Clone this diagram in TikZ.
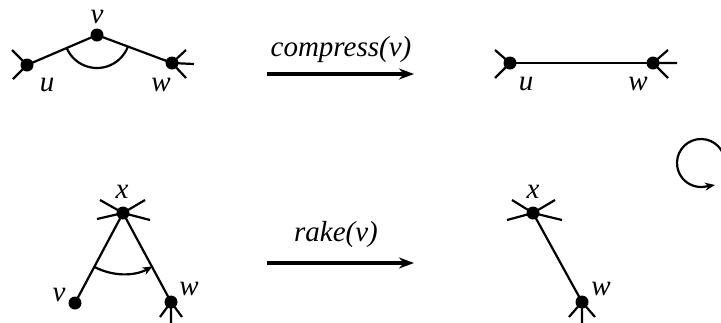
\documentclass[tikz,border=0pt]{standalone}
\usepackage{fontspec}
\setmainfont{Liberation Serif}
\usetikzlibrary{arrows.meta}
\begin{document}
\begin{tikzpicture}[x=1pt,y=-1pt,
  vert/.style={circle,fill=black,inner sep=0pt,minimum size=13pt},
  edge/.style={line width=2.2pt},
  stub/.style={line width=2.2pt},
  lab/.style={inner sep=0pt,font=\fontsize{29}{29}\selectfont\itshape},
  bigarrow/.style={line width=3.2pt,-{Stealth[length=15pt,width=11pt]}},
  turn/.style={line width=2.2pt,-{Stealth[length=10pt,width=8pt]}}]
\useasboundingbox (0,0) rectangle (721,322);
\clip (0,0) rectangle (721,322);
% ---------- top left ----------
\node[vert] (u1) at (27,65) {};
\node[vert] (v1) at (97,35) {};
\node[vert] (w1) at (172,63) {};
\draw[edge] (u1.center) -- (v1.center) -- (w1.center);
\coordinate (u1a) at (12,50); \coordinate (u1b) at (13,79);
\coordinate (w1a) at (186,50); \coordinate (w1b) at (194,64); \coordinate (w1c) at (186,78);
\draw[stub] (u1.center) -- (u1a) (u1.center) -- (u1b);
\draw[stub] (w1.center) -- (w1a) (w1.center) -- (w1b) (w1.center) -- (w1c);
\draw[edge] (v1.center) ++(157:33) arc[start angle=157,end angle=20.5,radius=33];
\node[lab] (lu1) at (47,85) {u};
\node[lab] (lv1) at (97,17) {v};
\node[lab] (lw1) at (161,85) {w};
% ---------- top arrow ----------
\coordinate (a1s) at (267,74); \coordinate (a1e) at (414,74);
\draw[bigarrow] (a1s) -- (a1e);
\node[lab] (c1) at (341,50) {compress(v)};
% ---------- top right ----------
\node[vert] (u2) at (510,63) {};
\node[vert] (w2) at (653,63) {};
\draw[edge] (u2.center) -- (w2.center);
\coordinate (u2a) at (495,50); \coordinate (u2b) at (495,78);
\coordinate (w2a) at (668,50); \coordinate (w2b) at (677,63); \coordinate (w2c) at (668,78);
\draw[stub] (u2.center) -- (u2a) (u2.center) -- (u2b);
\draw[stub] (w2.center) -- (w2a) (w2.center) -- (w2b) (w2.center) -- (w2c);
\node[lab] (lu2) at (526,84) {u};
\node[lab] (lw2) at (638,84) {w};
% ---------- bottom left ----------
\node[vert] (x3) at (123,213) {};
\node[vert] (v3) at (75,303) {};
\node[vert] (w3) at (171,302) {};
\draw[edge] (v3.center) -- (x3.center) -- (w3.center);
\coordinate (x3a) at (100,200); \coordinate (x3b) at (145,200);
\coordinate (x3c) at (97,219); \coordinate (x3d) at (150,220);
\draw[stub] (x3.center) -- (x3a) (x3.center) -- (x3b) (x3.center) -- (x3c) (x3.center) -- (x3d);
\coordinate (w3a) at (160,317); \coordinate (w3b) at (171,323); \coordinate (w3c) at (182,317);
\draw[stub] (w3.center) -- (w3a) (w3.center) -- (w3b) (w3.center) -- (w3c);
\draw[turn] (x3.center) ++(118.2:61) arc[start angle=118.2,end angle=61,radius=61];
\node[lab] (lx3) at (122,192) {x};
\node[lab] (lv3) at (59,295) {v};
\node[lab] (lw3) at (189,289) {w};
% ---------- bottom arrow ----------
\coordinate (a2s) at (267,263); \coordinate (a2e) at (414,263);
\draw[bigarrow] (a2s) -- (a2e);
\node[lab] (c2) at (336,235) {rake(v)};
% ---------- bottom right ----------
\node[vert] (x4) at (533,213) {};
\node[vert] (w4) at (582,302) {};
\draw[edge] (x4.center) -- (w4.center);
\coordinate (x4a) at (512,200); \coordinate (x4b) at (555,200);
\coordinate (x4c) at (507,220); \coordinate (x4d) at (562,220);
\draw[stub] (x4.center) -- (x4a) (x4.center) -- (x4b) (x4.center) -- (x4c) (x4.center) -- (x4d);
\coordinate (w4a) at (569,317); \coordinate (w4b) at (582,323); \coordinate (w4c) at (595,317);
\draw[stub] (w4.center) -- (w4a) (w4.center) -- (w4b) (w4.center) -- (w4c);
\node[lab] (lx4) at (533,192) {x};
\node[lab] (lw4) at (601,289) {w};
% ---------- rotation symbol ----------
\coordinate (rc) at (701,163);
\draw[turn] (rc) ++(-10:24) arc[start angle=-10,end angle=-282,radius=24] -- ++(9,-1.5);
\end{tikzpicture}
\end{document}
